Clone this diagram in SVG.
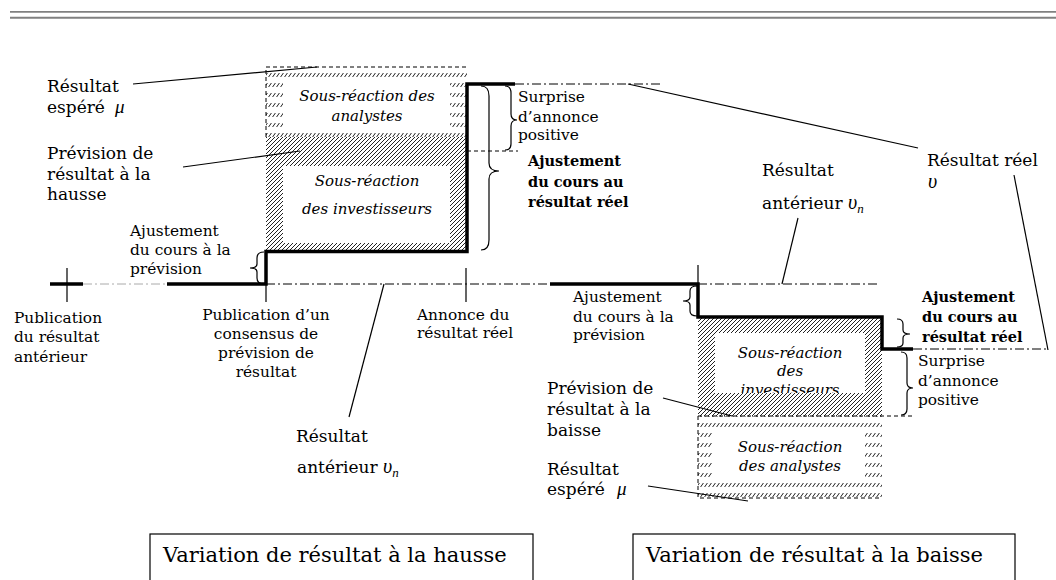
<svg xmlns="http://www.w3.org/2000/svg" width="1056" height="580" viewBox="0 0 1056 580">
<defs>
<pattern id="dense" patternUnits="userSpaceOnUse" width="4" height="4">
<path d="M-1,1 L1,-1 M0,4 L4,0 M3,5 L5,3" stroke="#222" stroke-width="1"/>
</pattern>
<pattern id="sparse" patternUnits="userSpaceOnUse" width="4" height="10">
<path d="M0.6,7 L3.4,3" stroke="#222" stroke-width="1"/>
</pattern>
</defs>
<style>
text{font-family:"DejaVu Serif",serif;fill:#000}
.m{font-size:17px}
.s{font-size:15.4px}
.b{font-size:14.5px;font-weight:bold}
.i{font-size:15px;font-style:italic}
.t{font-size:21px}
.g{font-family:"Liberation Serif",serif;font-style:italic}
.c{text-anchor:middle}
.thick{fill:none;stroke:#000;stroke-width:3.5}
.thin{fill:none;stroke:#000;stroke-width:1.2}
.dd{fill:none;stroke:#000;stroke-width:1;stroke-dasharray:9 3 2 3}
.dash{fill:none;stroke:#000;stroke-width:1;stroke-dasharray:4 3}
.brace{fill:none;stroke:#000;stroke-width:1.2}
.hd{fill:url(#dense)}
.hs{fill:url(#sparse)}
.w{fill:#fff}
</style>
<rect width="1056" height="580" fill="#fff"/>
<g id="header">
<line x1="10" y1="11.8" x2="1056" y2="11.8" stroke="#808080" stroke-width="1.8"/>
<line x1="10" y1="17.8" x2="1056" y2="17.8" stroke="#808080" stroke-width="2"/>
</g>

<g id="left-analysts">
<rect class="hs" x="266" y="67" width="201" height="70"/>
<rect class="w" x="283" y="78" width="167" height="49"/>
<path class="dash" d="M266,137 V67 H467"/>
<text class="i c" x="367" y="101">Sous-réaction des</text>
<text class="i c" x="367" y="121">analystes</text>
</g>
<g id="left-investors">
<rect class="hd" x="266" y="137" width="201" height="114"/>
<rect class="w" x="283" y="166" width="167" height="77"/>
<text class="i c" x="367" y="186">Sous-réaction</text>
<text class="i c" x="367" y="214">des investisseurs</text>
</g>

<g id="right-investors">
<rect class="hd" x="698" y="317" width="184" height="99"/>
<rect class="w" x="715" y="333" width="150" height="60"/>
<text class="i c" x="790" y="358">Sous-réaction</text>
<text class="i c" x="790" y="376">des</text>
<text class="i c" x="790" y="395">investisseurs</text>
<rect class="w" x="715" y="393" width="150" height="10"/>
<rect class="hd" x="715" y="393" width="150" height="10"/>
</g>
<g id="right-analysts">
<rect class="hs" x="698" y="416" width="184" height="82"/>
<rect class="w" x="712" y="427" width="153" height="51"/>
<path class="dash" d="M698,416 V498 H882"/>
<text class="i c" x="790" y="452">Sous-réaction</text>
<text class="i c" x="790" y="471">des analystes</text>
</g>

<g id="connectors">
<path d="M83,284 H167" fill="none" stroke="#aaa" stroke-width="1" stroke-dasharray="9 3 2 3"/>
<path class="dd" d="M266,284 H550"/>
<path class="dd" d="M515,84 H663"/>
<path class="dd" d="M698,284 H880"/>
<path class="dd" d="M913,349 H1048"/>
<path class="dash" d="M467,151 H518"/>
<path class="dash" d="M698,416 H915"/>
<path class="thin" d="M67,268 V302 M266,284 V302 M466,268 V302 M698,265 V285"/>
<path class="thick" d="M50,284 H83"/>
<path class="thick" d="M167,284 H266 V251.5 H467 V84 H515"/>
<path class="thick" d="M550,284 H698 V317 H882 V349 H913"/>
<path class="brace" d="M264,252 Q257,252 257,258 L257,264 Q257,268 250,268 Q257,268 257,272 L257,278 Q257,284 264,284"/>
<path class="brace" d="M481,86 Q489,86 489,96 L489,163 Q489,171 499,171 Q489,171 489,179 L489,240 Q489,250 481,250"/>
<path class="brace" d="M505,86 Q511,86 511,93 L511,114 Q511,120 517,120 Q511,120 511,126 L511,144 Q511,150 505,150"/>
<path class="brace" d="M697,286 Q690,286 690,291 L690,297 Q690,301 683,301 Q690,301 690,305 L690,311 Q690,316 697,316"/>
<path class="brace" stroke-width="1.6" d="M897,319 Q903,319 903,324 L903,330 Q903,334 910,334 Q903,334 903,338 L903,343 Q903,347 897,347"/>
<path class="brace" d="M901,352 Q907,352 907,358 L907,383 Q907,388 913,388 Q907,388 907,393 L907,409 Q907,415 901,415"/>
<path class="thin" d="M133,84 L317,67"/>
<path class="thin" d="M183,167 L300,151"/>
<path class="thin" d="M384,284 L349,417"/>
<path class="thin" d="M628,84 L918,148"/>
<path class="thin" d="M798,218 L782,284"/>
<path class="thin" d="M1014,175 L1048,350"/>
<path class="thin" d="M663,398 L732,416"/>
<path class="thin" d="M648,486 L748,501"/>
</g>

<g id="lbl-espere-left">
<text class="m" x="47" y="92">Résultat</text>
<text class="m" x="47" y="113">espéré <tspan class="g" x="115" font-size="19">μ</tspan></text>
</g>
<g id="lbl-prevision-hausse">
<text class="m" x="47" y="159">Prévision de</text>
<text class="m" x="47" y="180">résultat à la</text>
<text class="m" x="47" y="200">hausse</text>
</g>
<g id="lbl-ajust-prev-left">
<text class="s" x="130" y="236">Ajustement</text>
<text class="s" x="130" y="255">du cours à la</text>
<text class="s" x="130" y="274">prévision</text>
</g>
<g id="lbl-pub-anterieur">
<text class="s" x="14" y="323">Publication</text>
<text class="s" x="14" y="342">du résultat</text>
<text class="s" x="14" y="362">antérieur</text>
</g>
<g id="lbl-pub-consensus">
<text class="s c" x="266" y="320">Publication d’un</text>
<text class="s c" x="266" y="339">consensus de</text>
<text class="s c" x="266" y="358">prévision de</text>
<text class="s c" x="266" y="377">résultat</text>
</g>
<g id="lbl-annonce">
<text class="s" x="417" y="320">Annonce du</text>
<text class="s" x="417" y="338">résultat réel</text>
</g>
<g id="lbl-anterieur-left">
<text class="m" x="296" y="442">Résultat</text>
<text class="m" x="297" y="473">antérieur <tspan class="g" font-size="20">υ</tspan><tspan class="g" font-size="13" dy="4">n</tspan></text>
</g>
<g id="lbl-surprise-left">
<text class="s" x="518" y="102">Surprise</text>
<text class="s" x="518" y="122">d’annonce</text>
<text class="s" x="518" y="140">positive</text>
</g>
<g id="lbl-ajust-reel-left">
<text class="b" x="528" y="166">Ajustement</text>
<text class="b" x="528" y="187">du cours au</text>
<text class="b" x="528" y="207">résultat réel</text>
</g>
<g id="lbl-reel">
<text class="m" x="927" y="166">Résultat réel</text>
<text class="g" x="928" y="188" font-size="20">υ</text>
</g>
<g id="lbl-anterieur-right">
<text class="m" x="762" y="176">Résultat</text>
<text class="m" x="762" y="209">antérieur <tspan class="g" font-size="20">υ</tspan><tspan class="g" font-size="13" dy="4">n</tspan></text>
</g>
<g id="lbl-ajust-prev-right">
<text class="s" x="573" y="302">Ajustement</text>
<text class="s" x="573" y="322">du cours à la</text>
<text class="s" x="573" y="340">prévision</text>
</g>
<g id="lbl-ajust-reel-right">
<text class="b" x="922" y="302">Ajustement</text>
<text class="b" x="922" y="322">du cours au</text>
<text class="b" x="922" y="342">résultat réel</text>
</g>
<g id="lbl-surprise-right">
<text class="s" x="918" y="366">Surprise</text>
<text class="s" x="918" y="386">d’annonce</text>
<text class="s" x="918" y="405">positive</text>
</g>
<g id="lbl-prevision-baisse">
<text class="m" x="547" y="394">Prévision de</text>
<text class="m" x="547" y="415">résultat à la</text>
<text class="m" x="547" y="436">baisse</text>
</g>
<g id="lbl-espere-right">
<text class="m" x="547" y="475">Résultat</text>
<text class="m" x="547" y="495">espéré <tspan class="g" x="617" font-size="19">μ</tspan></text>
</g>

<g id="box-hausse">
<rect x="150" y="534" width="383" height="60" fill="none" stroke="#000" stroke-width="1.2"/>
<text class="t" x="163" y="562">Variation de résultat à la hausse</text>
</g>
<g id="box-baisse">
<rect x="633" y="534" width="382" height="60" fill="none" stroke="#000" stroke-width="1.2"/>
<text class="t" x="646" y="562">Variation de résultat à la baisse</text>
</g>
</svg>
